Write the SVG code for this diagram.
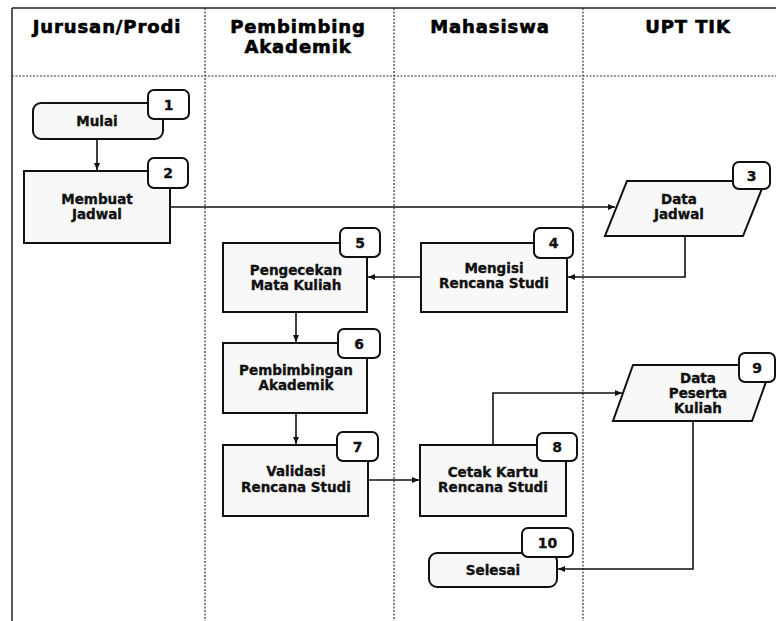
<svg xmlns="http://www.w3.org/2000/svg" width="776" height="621" viewBox="0 0 776 621">
<defs>
<marker id="ah" markerWidth="8" markerHeight="8" refX="7" refY="4" orient="auto" markerUnits="userSpaceOnUse">
<path d="M0,1 L7,4 L0,7 Z" fill="#111"/>
</marker>
<style>
.lane{stroke:#333;stroke-width:1.2;stroke-dasharray:2 1.5;fill:none}
.frame{stroke:#222;stroke-width:1.5;fill:none}
.hdr{font-family:"DejaVu Sans",sans-serif;font-weight:bold;font-size:18px;letter-spacing:0.9px;fill:#000;stroke:#000;stroke-width:0.6;text-anchor:middle}
.box{fill:#f8f8f8;stroke:#111;stroke-width:2}
.badge{fill:#fff;stroke:#111;stroke-width:2}
.t{font-family:"DejaVu Sans",sans-serif;font-weight:bold;font-size:13.5px;fill:#111;stroke:#111;stroke-width:0.35;text-anchor:middle}
.n{font-family:"DejaVu Sans",sans-serif;font-weight:bold;font-size:14px;fill:#111;stroke:#111;stroke-width:0.35;text-anchor:middle}
.c{fill:none;stroke:#111;stroke-width:1.6;marker-end:url(#ah)}
</style>
</defs>
<rect width="776" height="621" fill="#fff"/>
<g id="lanes">
<line class="frame" x1="12" y1="8" x2="776" y2="8"/>
<line class="frame" x1="12" y1="8" x2="12" y2="621"/>
<line class="lane" x1="12" y1="76" x2="776" y2="76"/>
<line class="lane" x1="205" y1="8" x2="205" y2="621"/>
<line class="lane" x1="394" y1="8" x2="394" y2="621"/>
<line class="lane" x1="583" y1="8" x2="583" y2="621"/>
<text class="hdr" x="107" y="33">Jurusan/Prodi</text>
<text class="hdr" x="298" y="33">Pembimbing</text>
<text class="hdr" x="298" y="53">Akademik</text>
<text class="hdr" x="490" y="33">Mahasiswa</text>
<text class="hdr" x="688" y="33">UPT TIK</text>
</g>
<g id="connectors">
<path class="c" d="M97,139 V170"/>
<path class="c" d="M170,207 H615"/>
<path class="c" d="M685,236 V277 H568"/>
<path class="c" d="M421,277 H368"/>
<path class="c" d="M296,312 V342"/>
<path class="c" d="M296,413 V444"/>
<path class="c" d="M368,480 H419"/>
<path class="c" d="M493,445 V393 H622"/>
<path class="c" d="M693,421 V569 H558"/>
</g>
<g id="n1">
<rect class="box" x="33" y="103" width="130" height="36" rx="8"/>
<text class="t" x="97" y="126">Mulai</text>
<rect class="badge" x="148" y="90" width="41" height="29" rx="6"/>
<text class="n" x="168.5" y="110">1</text>
</g>
<g id="n2">
<rect class="box" x="24" y="171" width="146" height="72"/>
<text class="t" x="97" y="204">Membuat</text>
<text class="t" x="97" y="219">Jadwal</text>
<rect class="badge" x="148" y="158" width="40" height="30" rx="6"/>
<text class="n" x="168" y="178">2</text>
</g>
<g id="n3">
<polygon class="box" points="627,181 765,181 743,236 605,236"/>
<text class="t" x="679" y="204">Data</text>
<text class="t" x="679" y="219">Jadwal</text>
<rect class="badge" x="733" y="162" width="37" height="27" rx="6"/>
<text class="n" x="751.5" y="181">3</text>
</g>
<g id="n4">
<rect class="box" x="421" y="243" width="146" height="69"/>
<text class="t" x="494" y="273">Mengisi</text>
<text class="t" x="494" y="288">Rencana Studi</text>
<rect class="badge" x="534" y="228" width="39" height="30" rx="6"/>
<text class="n" x="553.5" y="248">4</text>
</g>
<g id="n5">
<rect class="box" x="223" y="243" width="144" height="69"/>
<text class="t" x="296" y="275">Pengecekan</text>
<text class="t" x="296" y="290">Mata Kuliah</text>
<rect class="badge" x="340" y="228" width="40" height="29" rx="6"/>
<text class="n" x="360" y="248">5</text>
</g>
<g id="n6">
<rect class="box" x="223" y="343" width="144" height="70"/>
<text class="t" x="296" y="375">Pembimbingan</text>
<text class="t" x="296" y="390">Akademik</text>
<rect class="badge" x="338" y="329" width="42" height="29" rx="6"/>
<text class="n" x="359" y="349">6</text>
</g>
<g id="n7">
<rect class="box" x="223" y="445" width="145" height="71"/>
<text class="t" x="296" y="476">Validasi</text>
<text class="t" x="296" y="492">Rencana Studi</text>
<rect class="badge" x="337" y="432" width="41" height="29" rx="6"/>
<text class="n" x="357.5" y="452">7</text>
</g>
<g id="n8">
<rect class="box" x="420" y="445" width="146" height="71"/>
<text class="t" x="493" y="477">Cetak Kartu</text>
<text class="t" x="493" y="492">Rencana Studi</text>
<rect class="badge" x="537" y="433" width="40" height="28" rx="6"/>
<text class="n" x="557" y="452">8</text>
</g>
<g id="n9">
<polygon class="box" points="633,365 772,365 752,421 613,421"/>
<text class="t" x="698" y="383">Data</text>
<text class="t" x="698" y="398">Peserta</text>
<text class="t" x="698" y="413">Kuliah</text>
<rect class="badge" x="739" y="353" width="36" height="29" rx="6"/>
<text class="n" x="757" y="373">9</text>
</g>
<g id="n10">
<rect class="box" x="429" y="553" width="128" height="34" rx="8"/>
<text class="t" x="493" y="575">Selesai</text>
<rect class="badge" x="522" y="528" width="51" height="29" rx="6"/>
<text class="n" x="547.5" y="548">10</text>
</g>
</svg>
